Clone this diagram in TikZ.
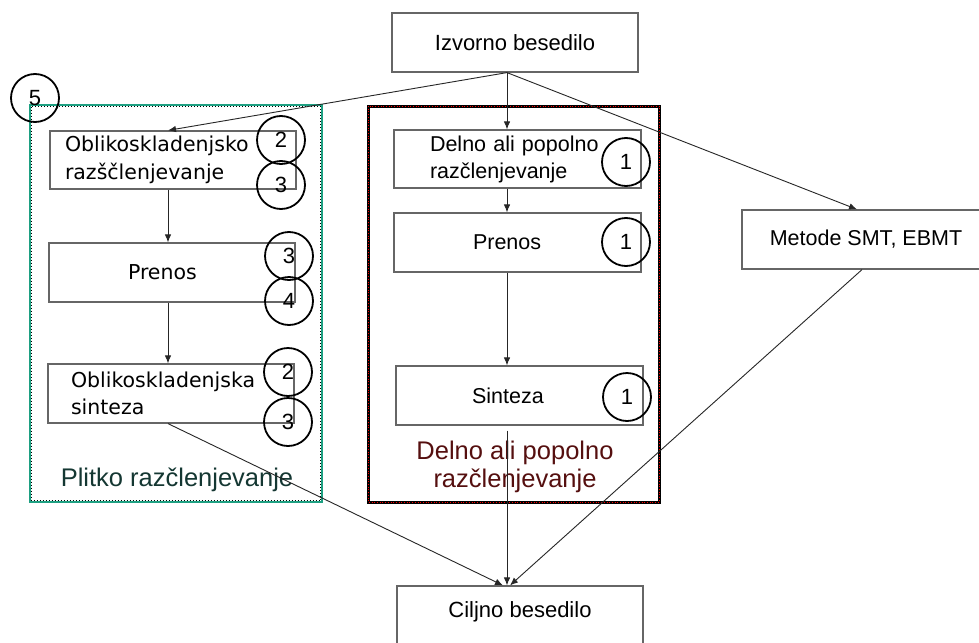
\documentclass[tikz,border=0pt]{standalone}
\usepackage{fontspec}
\setmainfont{Liberation Sans}
\newfontfamily\dejavu{DejaVu Sans}
\usetikzlibrary{arrows.meta}
\definecolor{tealframe}{RGB}{30,160,130}
\definecolor{plitcol}{RGB}{20,55,50}
\definecolor{delcol}{RGB}{85,15,15}
\begin{document}
\begin{tikzpicture}[x=1pt,y=-1pt,
  box/.style={draw=black!60, line width=1.2pt, minimum width=246pt, minimum height=58pt, inner sep=0pt},
  midfont/.style={font=\fontsize{21.5}{27}\selectfont},
  leftfont/.style={font=\dejavu\fontsize{20.5}{27.5}\selectfont},
  num/.style={circle, draw=black, line width=1.8pt, minimum size=48pt, inner sep=0pt, font=\fontsize{22}{24}\selectfont},
  conn/.style={draw=black!85, line width=0.9pt},
  arr/.style={conn, -{Latex[length=8pt,width=6.5pt]}},
  lab/.style={font=\fontsize{25.5}{28}\selectfont}]
\clip (0,0) rectangle (979,642);
\fill[white] (0,0) rectangle (979,642);
% frames
\draw[tealframe, line width=2.6pt] (30,105) rectangle (322,502);
\draw[black, line width=1pt, dotted] (31.5,106.5) rectangle (320.5,500.5);
\draw[black, line width=3pt] (368,106) rectangle (659,502);
\draw[red, line width=0.7pt, dotted] (368,106) rectangle (659,502);
% top box
\node[box, minimum width=246pt, minimum height=59pt, font=\fontsize{22}{26}\selectfont] (izv) at (515,42.5) {Izvorno besedilo};
% left column
\node[box, leftfont, text width=216pt, inner xsep=15pt, align=left] (ob1) at (173,160) {Oblikoskladenjsko\\razščlenjevanje};
\node[box, leftfont, text width=88pt, inner xsep=79pt, align=left, minimum height=59pt] (pr1) at (172,272.5) {Prenos};
\node[box, leftfont, text width=200pt, inner xsep=23pt, align=left, minimum height=59pt] (si1) at (171,393.5) {Oblikoskladenjska\\sinteza};
% middle column
\node[box, midfont, text width=175pt, inner xsep=36pt, align=left, minimum width=247pt] (de2) at (517.5,159) {Delno ali popolno\\razčlenjevanje};
\node[box, midfont, text width=89pt, inner xsep=79pt, align=left, minimum width=247pt, minimum height=59pt] (pr2) at (517.5,242.5) {Prenos};
\node[box, midfont, text width=95pt, inner xsep=76pt, align=left, minimum width=247pt, minimum height=59pt] (si2) at (519.5,395.5) {Sinteza};
% right and bottom
\node[box, midfont, minimum width=248pt, minimum height=59pt] (met) at (866,239.5) {Metode SMT, EBMT};
\node[box, font=\fontsize{22}{26}\selectfont, minimum width=246pt, minimum height=60pt, text depth=12pt] (cil) at (520,616) {Ciljno besedilo};
% labels
\node[lab, text=plitcol] (plit) at (177,480) {Plitko razčlenjevanje};
\node[lab, text=delcol, align=center] (dell) at (515,467) {Delno ali popolno\\razčlenjevanje};
% connectors
\draw[arr] ([xshift=-8pt]izv.south) -- ([xshift=-5pt]ob1.north);
\draw[arr] ([xshift=-8pt]izv.south) -- ([xshift=-10.5pt]de2.north);
\draw[arr] ([xshift=-8pt]izv.south) -- ([xshift=-9pt]met.north);
\draw[arr] ([xshift=-5pt]ob1.south) -- ([xshift=-4pt]pr1.north);
\draw[arr] ([xshift=-4pt]pr1.south) -- ([xshift=-3pt]si1.north);
\draw[arr] ([xshift=-10.5pt]de2.south) -- ([xshift=-10.5pt]pr2.north);
\draw[arr] ([xshift=-10.5pt]pr2.south) -- ([xshift=-12.5pt]si2.north);
\draw[arr] ([xshift=-12.5pt,yshift=-5pt]si2.south) -- ([xshift=-13pt]cil.north);
\draw[arr] ([xshift=-3pt]si1.south) -- ([xshift=-17pt]cil.north);
\draw[arr] ([xshift=-4pt]met.south) -- ([xshift=-10pt]cil.north);
% numbered circles
\node[num] (n5) at (35,98) {5};
\node[num] (n2a) at (281,140) {2};
\node[num] (n3a) at (281,185) {3};
\node[num] (n3b) at (289,256) {3};
\node[num] (n4) at (289,301) {4};
\node[num] (n2b) at (288,372) {2};
\node[num] (n3c) at (288,422) {3};
\node[num] (n1a) at (626,162) {1};
\node[num] (n1b) at (626,242) {1};
\node[num] (n1c) at (627,397) {1};
\end{tikzpicture}
\end{document}
